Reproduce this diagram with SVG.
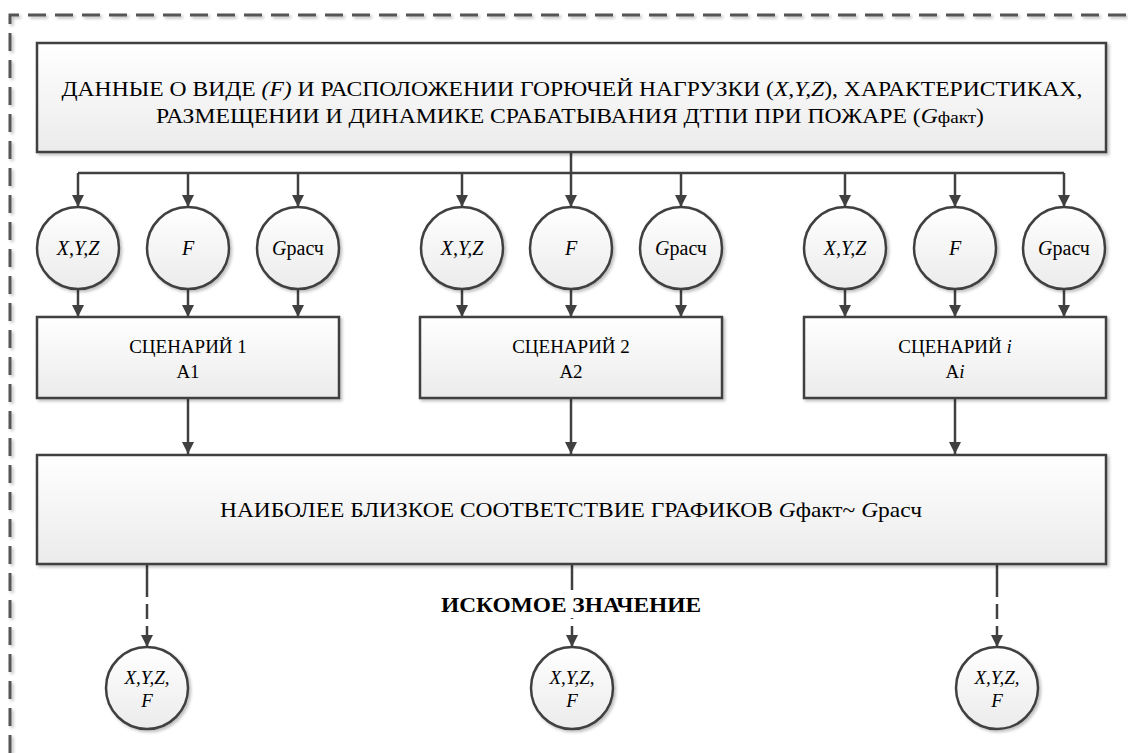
<svg xmlns="http://www.w3.org/2000/svg" width="1128" height="753" viewBox="0 0 1128 753">
<defs>
<linearGradient id="g" x1="0" y1="0" x2="0" y2="1">
<stop offset="0" stop-color="#ffffff"/>
<stop offset="1" stop-color="#ebebeb"/>
</linearGradient>
<filter id="sh" x="-10%" y="-10%" width="120%" height="130%">
<feDropShadow dx="2" dy="2" stdDeviation="1.5" flood-color="#000" flood-opacity="0.25"/>
</filter>
<marker id="arr" viewBox="0 0 10 10" markerWidth="12" markerHeight="13" refX="10" refY="5" orient="auto" markerUnits="userSpaceOnUse">
<path d="M0,0 L10,5 L0,10 z" fill="#404040"/>
</marker>
</defs>
<style>
.box{fill:url(#g);stroke:#404040;stroke-width:2.5;filter:url(#sh)}
.c{fill:url(#g);stroke:#404040;stroke-width:2.5;filter:url(#sh)}
text{font-family:'Liberation Serif','DejaVu Serif','Noto Serif',serif;font-size:19px;fill:#000;text-anchor:middle}
.big{font-size:21px}
.cc{font-size:20px}
.i{font-style:italic}
.s{font-size:17px}
.b{font-weight:bold}
.ln{fill:none;stroke:#404040;stroke-width:2.5}
.dl{fill:none;stroke:#404040;stroke-width:2.5;stroke-dasharray:32 7 15 7}
</style>
<rect width="1128" height="753" fill="#fff"/>
<path d="M10,753 L10,15 L1128,15" fill="none" stroke="#555" stroke-width="3" stroke-dasharray="18 9" filter="url(#sh)"/>

<g id="connectors">
<path class="ln" d="M571,152 V173 M78,173 H1064"/>
<path class="ln" marker-end="url(#arr)" d="M78,173 V207"/>
<path class="ln" marker-end="url(#arr)" d="M188,173 V207"/>
<path class="ln" marker-end="url(#arr)" d="M298,173 V207"/>
<path class="ln" marker-end="url(#arr)" d="M462,173 V207"/>
<path class="ln" marker-end="url(#arr)" d="M571,173 V207"/>
<path class="ln" marker-end="url(#arr)" d="M681,173 V207"/>
<path class="ln" marker-end="url(#arr)" d="M845,173 V207"/>
<path class="ln" marker-end="url(#arr)" d="M955,173 V207"/>
<path class="ln" marker-end="url(#arr)" d="M1064,173 V207"/>
<path class="ln" marker-end="url(#arr)" d="M78,289 V317"/>
<path class="ln" marker-end="url(#arr)" d="M188,289 V317"/>
<path class="ln" marker-end="url(#arr)" d="M298,289 V317"/>
<path class="ln" marker-end="url(#arr)" d="M462,289 V317"/>
<path class="ln" marker-end="url(#arr)" d="M571,289 V317"/>
<path class="ln" marker-end="url(#arr)" d="M681,289 V317"/>
<path class="ln" marker-end="url(#arr)" d="M845,289 V317"/>
<path class="ln" marker-end="url(#arr)" d="M955,289 V317"/>
<path class="ln" marker-end="url(#arr)" d="M1064,289 V317"/>
<path class="ln" marker-end="url(#arr)" d="M188,398 V454"/>
<path class="ln" marker-end="url(#arr)" d="M571,398 V454"/>
<path class="ln" marker-end="url(#arr)" d="M955,398 V454"/>
<path class="dl" marker-end="url(#arr)" d="M147,565 V647"/>
<path class="dl" marker-end="url(#arr)" d="M572,565 V647"/>
<path class="dl" marker-end="url(#arr)" d="M997,565 V647"/>
</g>

<g id="top">
<rect class="box" x="37" y="43" width="1069" height="109"/>
<text class="big" x="572" y="96" textLength="1021" lengthAdjust="spacingAndGlyphs">ДАННЫЕ О ВИДЕ <tspan class="i">(F)</tspan> И РАСПОЛОЖЕНИИ ГОРЮЧЕЙ НАГРУЗКИ (<tspan class="i">X,Y,Z</tspan>), ХАРАКТЕРИСТИКАХ,</text>
<text class="big" x="570" y="123" textLength="828" lengthAdjust="spacingAndGlyphs">РАЗМЕЩЕНИИ И ДИНАМИКЕ СРАБАТЫВАНИЯ ДТПИ ПРИ ПОЖАРЕ (<tspan class="i">G</tspan><tspan class="s">факт</tspan>)</text>
</g>

<g id="c1xyz"><circle class="c" cx="78" cy="248" r="41"/><text class="i cc" x="78" y="255">X,Y,Z</text></g>
<g id="c1f"><circle class="c" cx="188" cy="248" r="41"/><text class="i cc" x="188" y="255">F</text></g>
<g id="c1g"><circle class="c" cx="298" cy="248" r="41"/><text class="cc" x="298" y="255"><tspan class="i">G</tspan>расч</text></g>
<g id="c2xyz"><circle class="c" cx="462" cy="248" r="41"/><text class="i cc" x="462" y="255">X,Y,Z</text></g>
<g id="c2f"><circle class="c" cx="571" cy="248" r="41"/><text class="i cc" x="571" y="255">F</text></g>
<g id="c2g"><circle class="c" cx="681" cy="248" r="41"/><text class="cc" x="681" y="255"><tspan class="i">G</tspan>расч</text></g>
<g id="c3xyz"><circle class="c" cx="845" cy="248" r="41"/><text class="i cc" x="845" y="255">X,Y,Z</text></g>
<g id="c3f"><circle class="c" cx="955" cy="248" r="41"/><text class="i cc" x="955" y="255">F</text></g>
<g id="c3g"><circle class="c" cx="1064" cy="248" r="41"/><text class="cc" x="1064" y="255"><tspan class="i">G</tspan>расч</text></g>

<g id="s1"><rect class="box" x="37" y="317" width="302" height="81"/>
<text x="188" y="353">СЦЕНАРИЙ 1</text><text x="188" y="378">А1</text></g>
<g id="s2"><rect class="box" x="420" y="317" width="302" height="81"/>
<text x="571" y="353">СЦЕНАРИЙ 2</text><text x="571" y="378">А2</text></g>
<g id="si"><rect class="box" x="804" y="317" width="302" height="81"/>
<text x="955" y="353">СЦЕНАРИЙ <tspan class="i">i</tspan></text><text x="955" y="378">А<tspan class="i">i</tspan></text></g>

<g id="match"><rect class="box" x="37" y="455" width="1069" height="109"/>
<text class="big" x="571" y="517" textLength="702" lengthAdjust="spacingAndGlyphs">НАИБОЛЕЕ БЛИЗКОЕ СООТВЕТСТВИЕ ГРАФИКОВ <tspan class="i">G</tspan>факт~ <tspan class="i">G</tspan>расч</text></g>

<g id="label"><rect x="436" y="590" width="270" height="28" fill="#fff"/>
<text class="big b" x="571" y="612" textLength="260" lengthAdjust="spacingAndGlyphs">ИСКОМОЕ ЗНАЧЕНИЕ</text></g>

<g id="r1"><circle class="c" cx="147" cy="688" r="41"/><text class="i" x="147" y="684">X,Y,Z,</text><text class="i" x="147" y="707">F</text></g>
<g id="r2"><circle class="c" cx="572" cy="688" r="41"/><text class="i" x="572" y="684">X,Y,Z,</text><text class="i" x="572" y="707">F</text></g>
<g id="r3"><circle class="c" cx="997" cy="688" r="41"/><text class="i" x="997" y="684">X,Y,Z,</text><text class="i" x="997" y="707">F</text></g>
</svg>
